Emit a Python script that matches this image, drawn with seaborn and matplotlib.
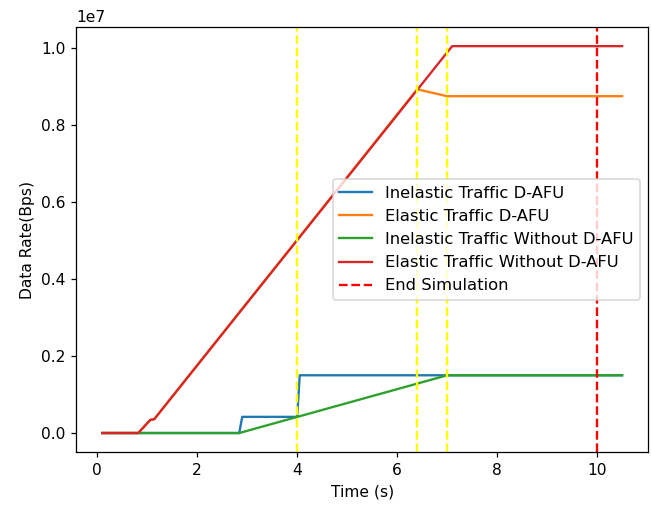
import matplotlib
matplotlib.use("Agg")
import matplotlib.pyplot as plt
import pandas as pd
import seaborn as sns

# breakpoints (time in s, rate in Bps)
inelastic_dafu_t = [0.1, 2.84, 2.9, 4.0, 4.05, 10.5]
inelastic_dafu_v = [0, 0, 0.42e6, 0.42e6, 1.5e6, 1.5e6]

elastic_dafu_t = [0.1, 0.82, 1.06, 1.14, 6.4, 7.0, 10.5]
elastic_dafu_v = [0, 0, 0.34e6, 0.36e6, 8.93e6, 8.75e6, 8.75e6]

inelastic_plain_t = [0.1, 2.84, 7.0, 10.5]
inelastic_plain_v = [0, 0, 1.5e6, 1.5e6]

elastic_plain_t = [0.1, 0.82, 1.06, 1.14, 7.1, 10.5]
elastic_plain_v = [0, 0, 0.34e6, 0.36e6, 10.05e6, 10.05e6]

event_times = [4.0, 6.4, 7.0]
end_time = 10.0

series = [
    ("Inelastic Traffic D-AFU", inelastic_dafu_t, inelastic_dafu_v),
    ("Elastic Traffic D-AFU", elastic_dafu_t, elastic_dafu_v),
    ("Inelastic Traffic Without D-AFU", inelastic_plain_t, inelastic_plain_v),
    ("Elastic Traffic Without D-AFU", elastic_plain_t, elastic_plain_v),
]

frames = []
for name, t, v in series:
    frames.append(pd.DataFrame({"time": t, "rate": v, "series": name}))
df = pd.concat(frames, ignore_index=True)

dpi = 112
fig, ax = plt.subplots(figsize=(652 / dpi, 506 / dpi), dpi=dpi)
fig.subplots_adjust(left=0.117, right=0.994, top=0.947, bottom=0.106)

sns.lineplot(
    data=df, x="time", y="rate", hue="series",
    hue_order=[s[0] for s in series], palette="tab10",
    sort=False, estimator=None, ax=ax, linewidth=1.5,
)

for t in event_times:
    ax.axvline(t, color="yellow", linestyle="--")
ax.axvline(end_time, color="red", linestyle="--", label="End Simulation")

ax.set_xlabel("Time (s)")
ax.set_ylabel("Data Rate(Bps)")
ax.legend(loc="center right", fontsize=10.5)

fig.savefig("out.png", dpi=dpi)
